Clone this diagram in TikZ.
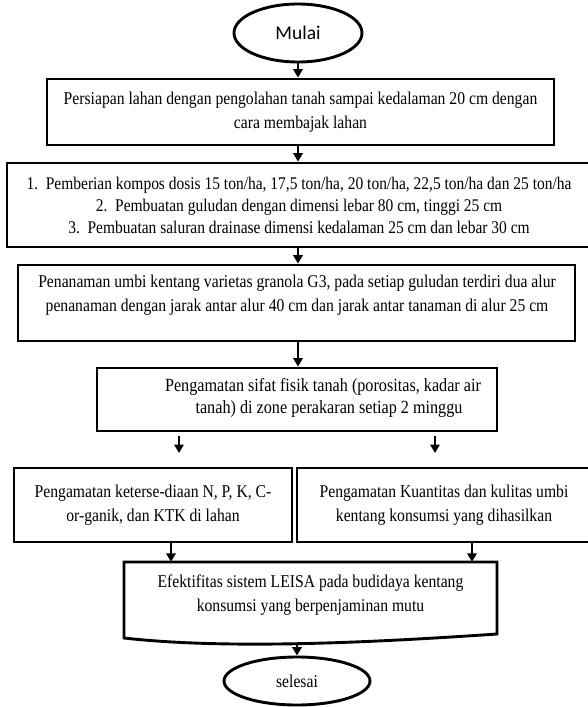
\documentclass[tikz,border=0pt]{standalone}
\usepackage{fontspec}
\setmainfont{Liberation Serif}[FakeStretch=0.87]
\newfontfamily\calib{Carlito}
\usetikzlibrary{shapes.geometric,arrows.meta}
\begin{document}
\begin{tikzpicture}[x=1pt,y=-1pt,
  box/.style={draw,line width=2.9pt,inner sep=0pt,align=center},
  oval/.style={draw,ellipse,line width=2.9pt,inner sep=0pt},
  arr/.style={line width=1.9pt,-{Triangle[length=8.5pt,width=9.5pt]}},
  txt/.style={font=\fontsize{18}{24}\selectfont,align=center,inner sep=0pt}]
\useasboundingbox (0,0) rectangle (588,707);

\node[oval,minimum width=128pt,minimum height=58pt,font=\calib\fontsize{19.5}{22}\selectfont] (start) at (298,33) {Mulai};

\node[box,txt,minimum width=507pt,minimum height=66pt] (b1) at (300.5,112)
  {Persiapan lahan dengan pengolahan tanah sampai kedalaman 20 cm dengan\\cara membajak lahan};

\node[box,font=\fontsize{17.8}{22}\selectfont,minimum width=584pt,minimum height=84pt] (b2) at (299,205)
  {1.\ \ Pemberian kompos dosis 15 ton/ha, 17,5 ton/ha, 20 ton/ha, 22,5 ton/ha dan 25 ton/ha\\
   2.\ \ Pembuatan guludan dengan dimensi lebar 80 cm, tinggi 25 cm\\
   3.\ \ Pembuatan saluran drainase dimensi kedalaman 25 cm dan lebar 30 cm};

\node[box,minimum width=557pt,minimum height=76pt] (b3) at (296.5,303) {};
\node[txt] (b3t) at (297,295)
  {Penanaman umbi kentang varietas granola G3, pada setiap guludan terdiri dua alur\\
   penanaman dengan jarak antar alur 40 cm dan jarak antar tanaman di alur 25 cm};

\node[box,minimum width=400pt,minimum height=63pt] (b4) at (297,399.5) {};
\node[txt,font=\fontsize{18.6}{22}\selectfont] (b4t) at (323,398)
  {Pengamatan sifat fisik tanah (porositas, kadar air\\
   \hspace*{12pt}tanah) di zone perakaran setiap 2 minggu};

\node[box,txt,minimum width=278pt,minimum height=74pt] (b5) at (153,505)
  {Pengamatan keterse-diaan N, P, K, C-\\or-ganik, dan KTK di lahan};
\node[box,txt,minimum width=294pt,minimum height=74pt] (b6) at (444,505)
  {Pengamatan Kuantitas dan kulitas umbi\\kentang konsumsi yang dihasilkan};

\node[txt,minimum width=373pt,minimum height=66pt] (b7) at (310.5,595)
  {Efektifitas sistem LEISA pada budidaya kentang\\konsumsi yang berpenjaminan mutu};
\draw[line width=2.9pt,line join=miter] (124,638) -- (124,562) -- (497,562) -- (497,634)
  .. controls (380,642) and (230,650) .. (124,638) -- cycle;

\node[oval,minimum width=146pt,minimum height=48pt,font=\fontsize{18}{20}\selectfont] (end) at (297,681) {selesai};

\coordinate (cx) at (298,0);
\coordinate (l1) at (171,0);
\coordinate (r1) at (472,0);
\coordinate (f1s) at (179,436);
\coordinate (f1e) at (179,453);
\coordinate (f2s) at (435,436);
\coordinate (f2e) at (435,453);
\coordinate (w) at (297,645);

\draw[arr] (start.south -| cx) -- (b1.north -| cx);
\draw[arr] (b1.south -| cx) -- (b2.north -| cx);
\draw[arr] (b2.south -| cx) -- (b3.north -| cx);
\draw[arr] (b3.south -| cx) -- (b4.north -| cx);
\draw[arr] (f1s) -- (f1e);
\draw[arr] (f2s) -- (f2e);
\draw[arr] (b5.south -| l1) -- (b7.north -| l1);
\draw[arr] (b6.south -| r1) -- (b7.north -| r1);
\draw[arr] (w) -- (end.north);
\end{tikzpicture}
\end{document}
